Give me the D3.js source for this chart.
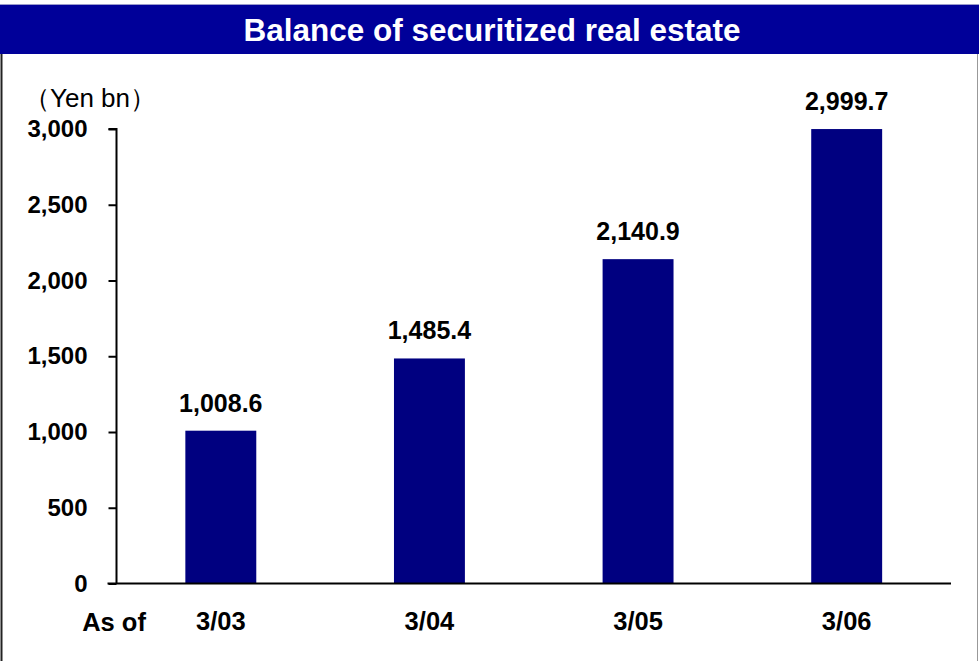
<!DOCTYPE html>
<html>
<head>
<meta charset="utf-8">
<script src="https://cdn.jsdelivr.net/npm/d3@7"></script>
<style>
  html, body { margin: 0; padding: 0; background: #fff; }
  svg { display: block; }
  text { font-family: Arial, "Liberation Sans", sans-serif; }
</style>
</head>
<body>
<svg id="chart" width="980" height="661"></svg>
<script>
// Balance of securitized real estate, by fiscal year end
const categories = ["3/03", "3/04", "3/05", "3/06"];
const balances = [1008.6, 1485.4, 2140.9, 2999.7];
const yTicks = [0, 500, 1000, 1500, 2000, 2500, 3000];
const titleText = "Balance of securitized real estate";
const unitText = "（Yen bn）";
const axisPrefix = "As of";

const svg = d3.select("#chart");
const W = 980, H = 661;

// Header band
svg.append("rect").attr("x", 0).attr("y", 4).attr("width", W - 1).attr("height", 50)
  .attr("fill", "#000099");
svg.append("line").attr("x1", 0).attr("x2", W - 1).attr("y1", 4.5).attr("y2", 4.5)
  .attr("stroke", "#9a9acc").attr("stroke-width", 1);
svg.append("text").attr("x", 492).attr("y", 41).attr("text-anchor", "middle")
  .attr("fill", "#fff").attr("font-weight", "bold").attr("font-size", 31.5)
  .text(titleText);

// Frame sides
svg.append("line").attr("x1", 1.5).attr("x2", 1.5).attr("y1", 54).attr("y2", H)
  .attr("stroke", "#222").attr("stroke-width", 2);
svg.append("line").attr("x1", 977.5).attr("x2", 977.5).attr("y1", 54).attr("y2", H)
  .attr("stroke", "#999").attr("stroke-width", 1);

// Plot area
const plotLeft = 116.5, plotRight = 951, plotTop = 129, plotBottom = 583.5;

const x = d3.scaleBand().domain(categories).range([plotLeft, plotRight])
  .paddingInner(0.66).paddingOuter(0.33);
const y = d3.scaleLinear().domain([0, 3000]).range([plotBottom, plotTop]);

// Bars
svg.append("g").selectAll("rect").data(balances).join("rect")
  .attr("x", (d, i) => x(categories[i]))
  .attr("y", d => y(d))
  .attr("width", x.bandwidth())
  .attr("height", d => plotBottom - y(d))
  .attr("fill", "#000080");

// Value labels
svg.append("g").selectAll("text").data(balances).join("text")
  .attr("x", (d, i) => x(categories[i]) + x.bandwidth() / 2)
  .attr("y", d => y(d) - 19)
  .attr("text-anchor", "middle")
  .attr("font-weight", "bold").attr("font-size", 25).attr("fill", "#000")
  .text(d => d3.format(",.1f")(d));

// Y axis
const yAxis = d3.axisLeft(y).tickValues(yTicks).tickSize(8).tickPadding(21)
  .tickFormat(d3.format(","));
const gy = svg.append("g").attr("transform", `translate(${plotLeft},0)`).call(yAxis);
gy.select(".domain").attr("stroke", "#000").attr("stroke-width", 2)
  .attr("d", `M-8,${plotTop}H0V${plotBottom}`);
gy.selectAll(".tick line").attr("stroke", "#000").attr("stroke-width", 2);
gy.selectAll(".tick text").attr("font-size", 24).attr("font-weight", "bold")
  .attr("fill", "#000").attr("font-family", "Arial, 'Liberation Sans', sans-serif");

// X axis baseline
svg.append("line").attr("x1", plotLeft - 9).attr("x2", plotRight).attr("y1", plotBottom).attr("y2", plotBottom)
  .attr("stroke", "#000").attr("stroke-width", 2);

// Category labels
svg.append("g").selectAll("text").data(categories).join("text")
  .attr("x", d => x(d) + x.bandwidth() / 2)
  .attr("y", 630)
  .attr("text-anchor", "middle")
  .attr("font-weight", "bold").attr("font-size", 25.5).attr("fill", "#000")
  .text(d => d);

svg.append("text").attr("x", 114).attr("y", 631).attr("text-anchor", "middle")
  .attr("font-weight", "bold").attr("font-size", 25.5).attr("fill", "#000")
  .text(axisPrefix);

// Unit label
svg.append("text").attr("x", 24).attr("y", 107).attr("text-anchor", "start")
  .attr("font-size", 26).attr("fill", "#000")
  .text(unitText);
</script>
</body>
</html>
